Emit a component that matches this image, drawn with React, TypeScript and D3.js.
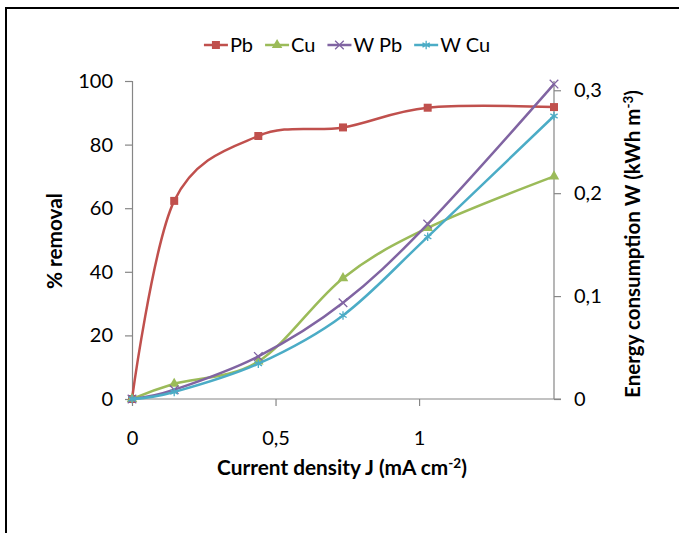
import React, { useEffect, useRef } from 'react';
import * as d3 from 'd3';

// current density J (mA cm-2)
const currentDensity = [0, 0.147, 0.44, 0.735, 1.03, 1.47];
// % removal
const pbRemoval = [0, 62.3, 82.7, 85.4, 91.6, 91.8];
const cuRemoval = [0, 4.8, 11.8, 38, 53.8, 70];
// energy consumption W (kWh m-3)
const wPb = [0, 0.009, 0.0414, 0.0935, 0.17, 0.306];
const wCu = [0, 0.0068, 0.0343, 0.0812, 0.1576, 0.275];

const xTicks = [0, 0.5, 1];
const leftTicks = [0, 20, 40, 60, 80, 100];
const rightTicks = [0, 0.1, 0.2, 0.3];

const seriesNames = ['Pb', 'Cu', 'W Pb', 'W Cu'];

const fmt = (v: number) => String(v).replace('.', ',');

const App = () => {
  const svgRef = useRef<SVGSVGElement>(null);

  useEffect(() => {
    const width = 679;
    const height = 533;
    const font = 'Lato, "Open Sans", sans-serif';
    const axisColor = '#868686';

    const svg = d3.select(svgRef.current).attr('width', width).attr('height', height);
    svg.selectAll('*').remove();

    // outer frame
    svg.append('rect')
      .attr('x', 6).attr('y', 8).attr('width', 900).attr('height', 900)
      .attr('fill', 'white').attr('stroke', '#000').attr('stroke-width', 2);

    const x = d3.scaleLinear().domain([0, 1.47]).range([132, 554]);
    const yL = d3.scaleLinear().domain([0, 100]).range([399, 81]);
    const yR = d3.scaleLinear().domain([0, 0.309]).range([399, 81]);

    // left axis
    const gl = svg.append('g').attr('transform', `translate(${x(0)},0)`)
      .call(d3.axisLeft(yL).tickValues(leftTicks).tickSize(7).tickPadding(12).tickFormat(d => fmt(+d)));
    // right axis
    const gr = svg.append('g').attr('transform', `translate(${x(1.47)},0)`)
      .call(d3.axisRight(yR).tickValues(rightTicks).tickSize(7).tickPadding(13).tickFormat(d => fmt(+d)));
    gr.select('.domain').attr('d', `M0,${yR(0)}V${yL(100)}`);
    // x axis
    const gx = svg.append('g').attr('transform', `translate(0,${yL(0)})`)
      .call(d3.axisBottom(x).tickValues(xTicks).tickSize(7).tickPadding(25).tickFormat(d => fmt(+d)));
    gx.select('.domain').attr('d', `M${x(0)},0H${x(1.47) + 7}`);

    [gl, gr, gx].forEach(g => {
      g.select('.domain').attr('stroke', axisColor).attr('stroke-width', 1.2);
      g.selectAll('.tick line').attr('stroke', axisColor).attr('stroke-width', 1.2);
      g.selectAll('.tick text').attr('font-family', font).attr('font-size', 20).attr('fill', '#000');
    });

    // fit a title to the length it has in the picture
    const fit = (t: any, target: number) => {
      const w = (t.node() as SVGTextElement).getBBox().width;
      const fs = +t.attr('font-size');
      t.attr('font-size', fs * target / w);
      t.selectAll('tspan.sup').attr('font-size', fs * target / w * 0.65);
    };

    // axis titles
    const lt = svg.append('text')
      .attr('transform', 'translate(62,241) rotate(-90)')
      .attr('text-anchor', 'middle')
      .attr('font-family', font).attr('font-weight', 'bold').attr('font-size', 20)
      .text('% removal');
    fit(lt, 96);

    const xt = svg.append('text')
      .attr('x', 342).attr('y', 475)
      .attr('text-anchor', 'middle')
      .attr('font-family', font).attr('font-weight', 'bold').attr('font-size', 20);
    xt.append('tspan').text('Current density J (mA cm');
    xt.append('tspan').attr('class', 'sup').attr('dy', -7).attr('font-size', 13).text('-2');
    xt.append('tspan').attr('dy', 7).text(')');
    fit(xt, 250);

    const rt = svg.append('text')
      .attr('transform', 'translate(640,244) rotate(-90)')
      .attr('text-anchor', 'middle')
      .attr('font-family', font).attr('font-weight', 'bold').attr('font-size', 20);
    rt.append('tspan').text('Energy consumption W (kWh m');
    rt.append('tspan').attr('class', 'sup').attr('dy', -7).attr('font-size', 13).text('-3');
    rt.append('tspan').attr('dy', 7).text(')');
    fit(rt, 308);

    const series = [
      { name: seriesNames[0], values: pbRemoval, y: yL, color: '#C0504D', symbol: d3.symbolSquare, size: 64, fill: true },
      { name: seriesNames[1], values: cuRemoval, y: yL, color: '#9BBB59', symbol: d3.symbolTriangle, size: 48, fill: true },
      { name: seriesNames[2], values: wPb, y: yR, color: '#8064A2', symbol: d3.symbolX, size: 50, fill: false },
      { name: seriesNames[3], values: wCu, y: yR, color: '#4BACC6', symbol: d3.symbolAsterisk, size: 50, fill: false },
    ];

    const drawMarker = (g: any, s: any, cx: number, cy: number) => {
      g.append('path')
        .attr('d', d3.symbol().type(s.symbol).size(s.size)())
        .attr('transform', `translate(${cx},${cy})`)
        .attr('fill', s.fill ? s.color : 'none')
        .attr('stroke', s.color)
        .attr('stroke-width', s.fill ? 0 : 1.3);
    };

    series.forEach(s => {
      const pts: [number, number][] = currentDensity.map((c, i) => [x(c), s.y(s.values[i])]);
      const line = d3.line().curve(d3.curveCatmullRom.alpha(0));
      const g = svg.append('g');
      g.append('path')
        .attr('d', line(pts))
        .attr('fill', 'none')
        .attr('stroke', s.color)
        .attr('stroke-width', 2.5);
      pts.forEach(p => drawMarker(g, s, p[0], p[1]));
    });

    // legend
    const legend = svg.append('g');
    let cursor = 0;
    series.forEach(s => {
      const item = legend.append('g').attr('transform', `translate(${cursor},45)`);
      item.append('line').attr('x1', 0).attr('x2', 24).attr('stroke', s.color).attr('stroke-width', 2.5);
      drawMarker(item, s, 12, 0);
      const t = item.append('text')
        .attr('x', 26).attr('dy', '0.35em')
        .attr('font-family', font).attr('font-size', 20)
        .text(s.name);
      const w = (t.node() as SVGTextElement).getComputedTextLength();
      cursor += 26 + w + 12;
    });
    const total = cursor - 12;
    legend.attr('transform', `translate(${347 - total / 2},0)`);
  }, []);

  return (
    <svg ref={svgRef} style={{ position: 'absolute', left: 0, top: 0 }}></svg>
  );
};

export default App;
